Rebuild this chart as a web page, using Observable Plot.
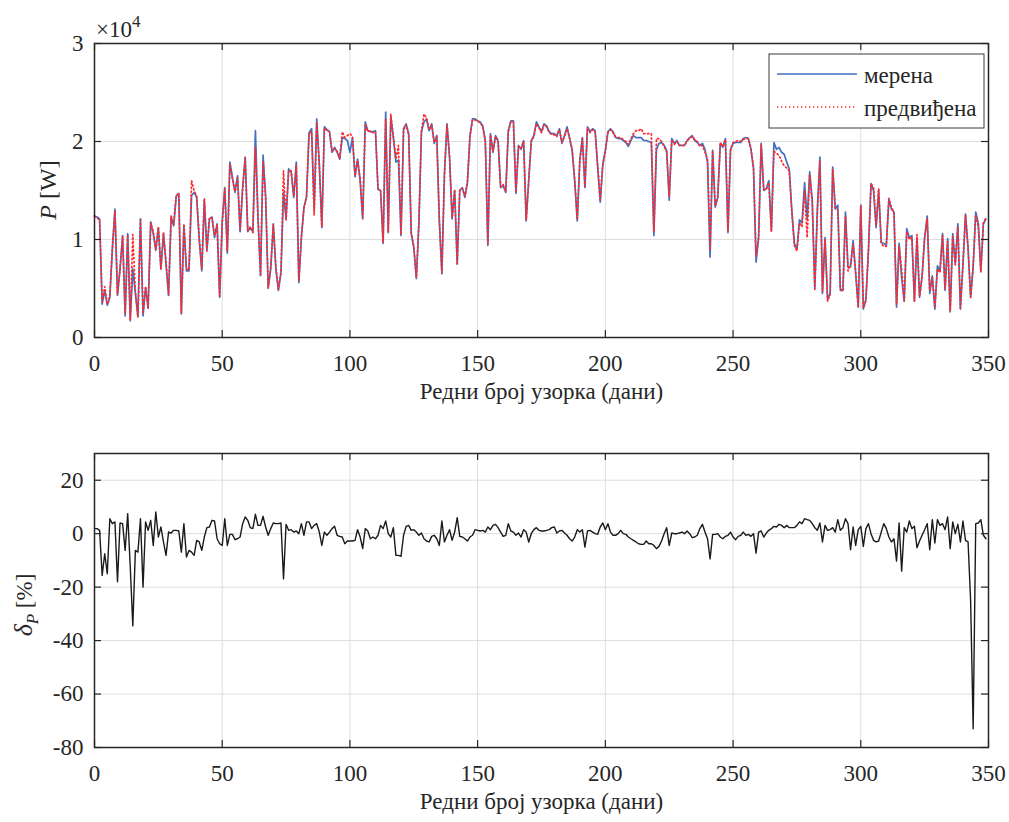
<!DOCTYPE html>
<html>
<head>
<meta charset="utf-8">
<script src="https://cdn.jsdelivr.net/npm/d3@7"></script>
<script src="https://cdn.jsdelivr.net/npm/@observablehq/plot@0.6"></script>
<style>
  html, body { margin: 0; padding: 0; background: #fff; }
  #chart { position: relative; width: 1009px; height: 822px; background: #fff; }
  #chart svg { position: absolute; left: 0; }
</style>
</head>
<body>
<div id="chart"></div>
<script>
// ---------- DATA ----------
// measured power P (×10^4 W), one value per sample/day
const measured = [
  1.24,1.23,1.21,0.34,0.48,0.33,0.41,0.90,1.31,0.43,
  0.70,1.04,0.22,1.06,0.17,0.70,0.45,0.21,1.21,0.22,
  0.51,0.30,1.18,1.06,0.89,1.12,0.70,1.06,0.75,0.43,
  1.23,1.14,1.44,1.47,0.24,1.14,0.68,0.68,1.45,1.48,
  1.43,1.00,0.68,1.40,0.89,1.21,1.23,1.02,1.16,0.41,
  1.18,1.53,0.86,1.79,1.63,1.48,1.65,1.08,1.53,1.84,
  1.08,1.12,1.08,2.11,1.23,0.63,1.86,1.43,0.50,0.70,
  1.16,0.70,0.48,0.66,1.48,1.21,1.72,1.69,1.43,1.79,
  0.56,1.02,1.33,1.43,2.09,2.13,1.31,2.23,1.77,1.12,
  2.15,2.12,2.10,1.89,1.94,1.89,1.82,2.04,2.03,2.01,
  1.89,2.04,1.64,1.82,1.60,1.21,2.20,2.11,2.10,2.10,
  2.11,1.51,1.50,0.96,2.30,1.07,2.25,2.04,1.79,1.81,
  1.04,2.13,2.18,2.08,1.06,0.92,0.60,1.16,2.10,2.20,
  2.23,2.11,2.18,1.98,2.06,1.19,0.65,1.67,2.18,1.84,
  1.21,1.50,0.75,1.50,1.53,1.43,1.58,2.06,2.23,2.23,
  2.21,2.20,2.16,2.01,0.94,2.08,1.89,2.06,2.01,1.53,
  1.55,1.48,2.11,2.21,2.21,1.47,1.96,1.92,2.01,1.19,
  1.60,2.01,2.06,2.20,2.15,2.10,2.18,2.16,2.10,2.08,
  2.08,2.06,2.13,1.98,2.06,2.15,2.03,1.91,1.60,1.19,
  1.81,2.04,1.53,2.15,2.10,2.13,2.11,1.74,1.38,1.77,
  1.91,2.10,2.13,2.10,2.04,2.03,2.03,2.01,1.99,1.95,
  2.01,2.06,2.04,2.04,2.04,2.01,2.01,2.00,1.99,1.04,
  1.92,1.98,1.99,1.96,1.91,1.40,2.03,1.98,2.01,1.96,
  1.96,1.96,2.01,2.04,2.06,2.01,1.99,1.96,1.98,1.92,
  1.79,0.82,1.91,1.33,1.43,1.98,1.94,2.03,1.07,1.92,
  1.98,1.99,1.99,1.99,2.03,2.04,2.03,1.92,1.72,0.77,
  1.02,1.98,1.50,1.52,1.60,1.09,1.99,1.92,1.94,1.89,
  1.87,1.79,1.72,1.30,0.96,0.90,1.20,1.17,1.58,1.21,
  1.69,1.40,0.50,1.31,1.84,0.45,1.02,0.39,0.45,1.74,
  1.31,1.35,0.48,0.48,1.28,0.72,0.72,0.99,0.65,0.31,
  1.35,0.29,0.39,0.89,1.57,1.50,1.12,1.50,0.97,0.96,
  0.94,1.41,1.31,1.28,0.31,0.96,0.61,0.37,1.11,1.02,
  1.04,0.37,1.02,0.41,0.63,1.02,1.24,0.45,0.63,0.29,
  0.73,0.68,1.06,0.48,1.01,0.26,1.06,0.75,1.16,0.29,
  0.75,1.26,0.92,0.41,0.72,1.28,1.17,0.68,1.16,1.21
];
// predicted power P (×10^4 W)
const predicted = [
  1.24,1.22,1.20,0.36,0.52,0.34,0.42,0.92,1.29,0.44,
  0.70,1.03,0.24,1.05,0.18,1.05,0.47,0.21,1.20,0.24,
  0.52,0.30,1.17,1.08,0.90,1.13,0.69,1.07,0.77,0.44,
  1.24,1.15,1.45,1.47,0.25,1.16,0.70,0.69,1.60,1.50,
  1.44,1.02,0.70,1.42,0.88,1.22,1.22,1.04,1.15,0.42,
  1.17,1.52,0.88,1.77,1.62,1.49,1.63,1.10,1.52,1.83,
  1.09,1.13,1.07,1.94,1.22,0.64,1.80,1.44,0.51,0.72,
  1.15,0.72,0.49,0.67,1.70,1.20,1.70,1.70,1.44,1.76,
  0.57,1.03,1.32,1.44,2.08,2.10,1.25,2.20,1.78,1.13,
  2.14,2.11,2.10,1.90,1.93,1.90,1.83,2.10,2.04,2.06,
  2.08,2.05,1.65,1.81,1.62,1.22,2.18,2.10,2.11,2.09,
  2.10,1.52,1.50,0.97,2.23,1.08,2.28,2.05,1.82,1.96,
  1.05,2.12,2.17,2.07,1.07,0.93,0.61,1.17,2.11,2.28,
  2.24,2.12,2.17,1.99,2.05,1.20,0.66,1.66,2.17,1.85,
  1.22,1.51,0.74,1.51,1.52,1.44,1.59,2.05,2.22,2.22,
  2.21,2.19,2.15,2.00,0.95,2.07,1.90,2.05,2.00,1.54,
  1.56,1.49,2.10,2.20,2.20,1.48,1.95,1.93,2.00,1.20,
  1.61,2.00,2.05,2.18,2.14,2.09,2.17,2.15,2.09,2.07,
  2.07,2.05,2.12,1.99,2.05,2.13,2.04,1.92,1.61,1.20,
  1.80,2.03,1.54,2.14,2.09,2.12,2.10,1.75,1.40,1.76,
  1.90,2.09,2.12,2.09,2.05,2.04,2.04,2.02,2.00,1.97,
  2.03,2.08,2.11,2.11,2.13,2.08,2.08,2.08,2.08,1.08,
  2.03,2.03,2.00,1.95,1.89,1.44,2.02,1.97,2.00,1.96,
  1.96,1.96,2.01,2.03,2.05,2.02,2.00,1.95,1.96,1.89,
  1.82,0.89,1.91,1.34,1.43,1.99,1.95,2.02,1.08,1.91,
  1.99,2.00,2.01,2.00,2.02,2.03,2.03,1.93,1.74,0.83,
  1.02,1.97,1.51,1.51,1.58,1.08,1.90,1.88,1.86,1.80,
  1.75,1.73,1.70,1.27,0.94,0.88,1.17,1.13,1.50,1.02,
  1.66,1.37,0.49,1.28,1.80,0.47,1.00,0.37,0.44,1.72,
  1.33,1.30,0.50,0.47,1.24,0.68,0.75,0.95,0.67,0.31,
  1.34,0.30,0.37,0.88,1.57,1.53,1.14,1.52,0.96,0.93,
  0.93,1.42,1.33,1.27,0.34,0.93,0.70,0.37,1.08,1.00,
  1.02,0.37,1.05,0.42,0.61,1.03,1.21,0.48,0.61,0.30,
  0.70,0.66,1.04,0.50,0.98,0.27,1.03,0.74,1.13,0.30,
  0.73,1.25,0.90,0.41,0.74,1.25,1.13,0.67,1.17,1.22
];
// relative error δP (%)
const errorPct = [
  1.9,1.9,1.25,-15.6,-7.5,-15,5.6,3.75,4.4,-18,
  4,3.75,-6.25,7.5,-12.5,-34.5,-6.25,-6.9,5.6,-20,
  4.4,1.25,5,-4.4,8.1,-1.25,2.5,-3.1,-8.1,0.6,
  0.25,1.25,1.25,1,-6.9,3.75,-8.75,-6.25,-6.9,-8.1,
  -2.5,-3.1,-6.25,-1.25,2.25,2.5,5,4.75,-1.9,-3.75,
  -4.4,5.6,-4.4,-0.25,-0.25,-2.25,-1.9,-1.25,3.75,6.25,
  5,2.25,1.9,7.25,3.1,3.1,6.5,2.5,-0.6,1.9,
  4,3.75,3.75,4,-16.9,3.5,1.25,1.5,0.6,1,
  0,3.75,-0.6,4.4,4.4,1.9,3.1,3.75,0.6,-4.4,
  0.6,-0.6,0.6,1.9,2.75,-0.6,-1,-1.25,-3.75,-2.75,
  -2.75,-2.75,-2.5,1.5,-1.25,-5.6,1.9,1,-1.9,-1.25,
  -1.9,-0.6,3.1,1.9,4.75,0,-1.25,2.25,-8.1,-8.1,
  -8.5,-0.6,2.75,3.1,1.25,1.5,0.6,-0.6,0.25,-1.9,
  -2.75,-3.1,-1,-0.6,-1.9,-4.4,4.75,-3.1,-0.6,1.5,
  -2.5,0.6,6,-1,-1.25,-1.9,-2.75,-1.25,-0.6,1.5,
  1.25,1,1.25,0.6,2.5,1.5,3.1,3.5,2.25,0.6,
  -1,-0.6,3.75,1,0.6,-0.6,0.25,-1.25,1.5,0.6,
  -3.1,0,1.5,2.25,1.25,1,1,1.25,1.5,2.25,
  2.5,0.25,1,1.25,0.25,-0.6,-1.9,-2.75,-1.25,1.5,
  0.6,1.5,-5,1,1.25,0.6,0,-0.25,2.5,4,
  1.5,3.75,0.6,-0.6,-0.6,0,1.25,0,-0.25,-1.25,
  -1.9,-2.5,-3.1,-3.75,-4,-4,-2.75,-3.75,-3.75,-4.4,
  -5.6,-4.75,-2.75,0,2.25,-4.4,0.25,0,0,0.25,
  0.6,0,1,0,-1.5,-1.25,-0.6,1.9,3.5,0.6,
  -1.9,-9.4,-0.25,-0.25,0,-1.25,-1.9,-1,-0.6,0.6,
  -1.25,-2.25,-1,-0.6,0.6,-0.6,-0.25,-1,0,-7.25,
  0.6,1,-1.25,0.25,1.25,1.9,2.75,2.5,3.5,3.1,
  2.25,3.1,2.25,2.25,2.25,3.1,4.4,3.75,5.6,5.25,
  5,3.75,2.25,1.25,4,-3.1,3.1,1.25,1.5,2.25,
  0.6,5.25,1.25,2.25,5.6,3.75,-6,2.5,-4.4,1.5,
  2.75,-4.75,1.9,3.75,0,-2.5,-3.1,-2.75,0.6,3.75,
  1.9,-1.25,-3.1,-1.9,-10.25,4,-14,2.25,0.6,4.75,
  1.9,2.75,-5.25,-2.75,-0.6,1.5,3.75,-6,5.25,-3.5,
  5.25,3.1,3.75,1.5,6.25,-5.6,4.4,0,3.5,-3.1,
  4.75,-2.5,-3.1,-25,-73,3.75,4,5.25,-0.6,-1.9
];
const xTicks = [0, 50, 100, 150, 200, 250, 300, 350];
const yTicksP = [0, 1, 2, 3];
const yTicksErr = [-80, -60, -40, -20, 0, 20];
const seriesNames = ["мерена", "предвиђена"];
const xTitle = "Редни број узорка (дани)";

// ---------- STYLE ----------
const FONT = '"Liberation Serif", "Times New Roman", serif';
const FS = 23;
const BLUE = "#4470c0";
const RED = "#ff2b2b";
const AXIS = "#262626";
const GRID = "#dedede";
const W = 1009, ML = 94, MR = 21;
const innerW = W - ML - MR;

const rowsP = measured.map((m, i) => ({day: i, measured: m, predicted: predicted[i]}));
const rowsE = errorPct.map((e, i) => ({day: i, err: e}));

function boxTicks(yTicks, innerH) {
  return [
    Plot.tickX(xTicks, {x: d => d, insetTop: innerH - 7, stroke: AXIS, strokeWidth: 1.2}),
    Plot.tickX(xTicks, {x: d => d, insetBottom: innerH - 7, stroke: AXIS, strokeWidth: 1.2}),
    Plot.tickY(yTicks, {y: d => d, insetRight: innerW - 7, stroke: AXIS, strokeWidth: 1.2}),
    Plot.tickY(yTicks, {y: d => d, insetLeft: innerW - 7, stroke: AXIS, strokeWidth: 1.2})
  ];
}

const chart = document.getElementById("chart");

// ---------- TOP PLOT ----------
const H1 = 400, MT1 = 43, MB1 = 63, innerH1 = H1 - MT1 - MB1;
const p1 = Plot.plot({
  width: W, height: H1,
  marginLeft: ML, marginRight: MR, marginTop: MT1, marginBottom: MB1,
  style: {fontFamily: FONT, fontSize: FS + "px", color: AXIS, background: "transparent", overflow: "visible"},
  x: {domain: [0, 350]},
  y: {domain: [0, 3]},
  marks: [
    Plot.gridX(xTicks, {stroke: GRID, strokeOpacity: 1, strokeWidth: 1}),
    Plot.gridY(yTicksP, {stroke: GRID, strokeOpacity: 1, strokeWidth: 1}),
    Plot.line(rowsP, {x: "day", y: "measured", stroke: BLUE, strokeWidth: 1.7}),
    Plot.line(rowsP, {x: "day", y: "predicted", stroke: RED, strokeWidth: 1.7, strokeDasharray: "1.3,2.7"}),
    ...boxTicks(yTicksP, innerH1),
    Plot.frame({stroke: AXIS, strokeWidth: 1.5}),
    Plot.axisX(xTicks, {tickSize: 0, tickPadding: 17, label: null, fontSize: FS, tickFormat: d => String(d)}),
    Plot.axisY(yTicksP, {tickSize: 0, tickPadding: 11, label: null, fontSize: FS, tickFormat: d => String(d)}),
    Plot.text([xTitle], {frameAnchor: "bottom", dy: 61, fontSize: FS, fill: AXIS})
  ]
});
p1.style.top = "0px";
chart.appendChild(p1);

{
  const s = d3.select(p1);
  // y label: P [W]
  const t = s.append("text")
    .attr("transform", `translate(48,${MT1 + innerH1 / 2}) rotate(-90)`)
    .attr("text-anchor", "middle").attr("dy", "0.35em")
    .attr("font-family", FONT).attr("font-size", 24).attr("fill", AXIS);
  t.append("tspan").attr("font-style", "italic").text("P");
  t.append("tspan").text(" [W]");
  // exponent ×10^4
  const e = s.append("text").attr("x", 96).attr("y", 37).attr("text-anchor", "start")
    .attr("font-family", FONT).attr("font-size", 23).attr("fill", AXIS);
  e.append("tspan").text("×10");
  e.append("tspan").attr("dy", -10).attr("font-size", 17).text("4");
  // legend
  const g = s.append("g");
  g.append("rect").attr("x", 769).attr("y", 54).attr("width", 215).attr("height", 74)
    .attr("fill", "#fff").attr("stroke", "#3a3a3a").attr("stroke-width", 1);
  g.append("line").attr("x1", 777).attr("x2", 857).attr("y1", 74).attr("y2", 74)
    .attr("stroke", BLUE).attr("stroke-width", 1.5);
  g.append("line").attr("x1", 777).attr("x2", 857).attr("y1", 107).attr("y2", 107)
    .attr("stroke", RED).attr("stroke-width", 1.7).attr("stroke-dasharray", "1.3,2.7");
  seriesNames.forEach((n, i) => {
    g.append("text").attr("x", 864).attr("y", 83 + i * 33).attr("text-anchor", "start")
      .attr("font-family", FONT).attr("font-size", FS).attr("fill", AXIS).text(n);
  });
}

// ---------- BOTTOM PLOT ----------
const H2 = 422, MT2 = 53, MB2 = 75, innerH2 = H2 - MT2 - MB2;
const p2 = Plot.plot({
  width: W, height: H2,
  marginLeft: ML, marginRight: MR, marginTop: MT2, marginBottom: MB2,
  style: {fontFamily: FONT, fontSize: FS + "px", color: AXIS, background: "transparent", overflow: "visible"},
  x: {domain: [0, 350]},
  y: {domain: [-80, 30]},
  marks: [
    Plot.gridX(xTicks, {stroke: GRID, strokeOpacity: 1, strokeWidth: 1}),
    Plot.gridY(yTicksErr, {stroke: GRID, strokeOpacity: 1, strokeWidth: 1}),
    Plot.line(rowsE, {x: "day", y: "err", stroke: "#1a1a1a", strokeWidth: 1.4}),
    ...boxTicks(yTicksErr, innerH2),
    Plot.frame({stroke: AXIS, strokeWidth: 1.5}),
    Plot.axisX(xTicks, {tickSize: 0, tickPadding: 17, label: null, fontSize: FS, tickFormat: d => String(d)}),
    Plot.axisY(yTicksErr, {tickSize: 0, tickPadding: 11, label: null, fontSize: FS, tickFormat: d => String(d)}),
    Plot.text([xTitle], {frameAnchor: "bottom", dy: 61, fontSize: FS, fill: AXIS})
  ]
});
p2.style.top = H1 + "px";
chart.appendChild(p2);

{
  const s = d3.select(p2);
  const t = s.append("text")
    .attr("transform", `translate(24,${MT2 + innerH2 / 2 + 5}) rotate(-90)`)
    .attr("text-anchor", "middle").attr("dy", "0.35em")
    .attr("font-family", FONT).attr("font-size", FS).attr("fill", AXIS);
  t.append("tspan").attr("font-style", "italic").attr("font-size", 26).text("δ");
  t.append("tspan").attr("font-style", "italic").attr("font-size", 17).attr("dy", 6).text("P");
  t.append("tspan").attr("dy", -6).text(" [%]");
}
</script>
</body>
</html>
